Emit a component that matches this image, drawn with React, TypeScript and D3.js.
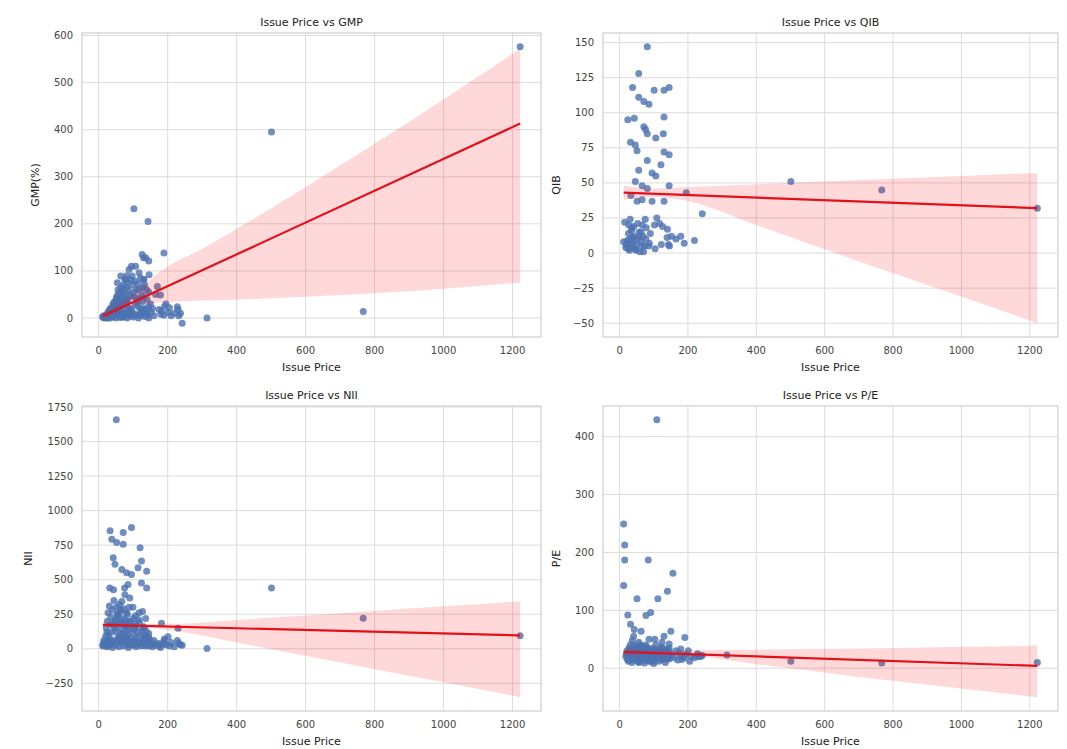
import React from "react";
import * as d3 from "d3";

// one entry per IPO, same order in every array (null = missing value)
const issuePrice = [
  12, 15, 15, 12, 24, 32, 33, 38, 42, 43,
  46, 46, 47, 51, 51, 52, 54, 56, 56, 56,
  63, 64, 66, 66, 67, 67, 71, 71, 75, 76,
  77, 78, 81, 81, 81, 81, 84, 85, 86, 88,
  90, 91, 95, 95, 97, 101, 102, 103, 106, 106,
  107, 109, 112, 114, 116, 117, 120, 121, 124, 124,
  126, 128, 130, 130, 130, 130, 131, 136, 139, 139,
  140, 143, 145, 145, 145, 145, 146, 150, 152, 156,
  160, 165, 170, 175, 179, 180, 182, 189, 189, 191,
  195, 201, 205, 210, 219, 228, 230, 232, 237, 242,
  314, 501, 767, 1222, 20, 22, 25, 27, 28, 30,
  31, 34, 35, 37, 39, 40, 41, 44, 48, 49,
  53, 55, 58, 60, 61, 62, 65, 68, 70, 72,
  74, 79, 83, 87, 92, 94, 99, 104, 110, 113,
  118, 122, 127, 133, 137, 18, 23, 26, 29, 33,
  36, 40, 45, 50, 57, 59, 64, 69, 73, 77,
  82, 86, 91, 96, 100, 108, 115, 123, 134, 141,
];

const gmp = [
  2, 5, 0, 3, 8, 10, 20, 15, 25, 12,
  30, 35, 22, 40, 18, 45, 75, 50, 28, 60,
  55, 89, 42, 65, 30, 10, 70, 58, 48, 82,
  35, 82, 66, 90, 25, 40, 75, 15, 60, 103,
  50, 20, 110, 80, 89, 45, 232, 55, 78, 30,
  110, 60, 35, 72, 40, 96, 20, 85, 50, 15,
  135, 65, 128, 20, 82, 45, 82, 128, 10, 60,
  40, 205, 121, 25, 55, 0, 92, 30, 12, 20,
  5, 50, 67, 18, 49, 8, 15, 138, 6, 25,
  30, 12, 22, 5, 10, 24, 18, 5, 10, -11,
  0, 395, 14, 576, 4, 0, 6, 12, 2, 15,
  8, 0, 18, 5, 22, 10, 30, 3, 16, 26,
  8, 32, 12, 38, 4, 24, 15, 44, 2, 28,
  52, 10, 36, 5, 48, 18, 70, 8, 42, 25,
  62, 5, 35, 70, 18, 1, 3, 0, 7, 2,
  9, 4, 11, 0, 6, 14, 1, 8, 3, 12,
  0, 9, 4, 14, 2, 7, 0, 11, 3, 6,
];

const qib = [
  8, null, 22, null, 95, 79, 41, 118, 12, 96,
  77, 51, null, 73, 37, 10, null, 128, 111, 59,
  15, null, 48, 38, 20, null, 108, 90, 24, 88,
  null, 18, 85, 147, 66, 46, null, 5, 106, null,
  14, null, 57, 37, null, 116, 20, null, 82, 55,
  null, 25, null, null, null, 21, null, 63, null, null,
  19, 85, 116, 97, 72, 37, null, null, 11, null,
  17, 6, 118, 70, 48, null, 5, null, 12, null,
  null, 10, null, null, 12, null, null, 7, null, null,
  43, null, null, null, 9, null, null, null, null, 28,
  null, 51, 45, 32, 6, null, 3, 20, null, 10,
  24, 4, 16, null, null, 8, 19, null, 2, null,
  21, null, 12, null, null, null, 5, null, 1, null,
  null, null, null, 7, null, null, null, 3, null, null,
  null, 6, null, null, null, 4, 9, 14, 2, 7,
  18, 11, 3, 6, 15, 1, 8, 12, 5, 10,
  null, null, null, null, null, null, null, null, null, null,
];

const nii = [
  30, 60, 45, 20, 120, 440, 854, 793, 659, 428,
  150, 200, 611, 300, 1657, 769, 250, 180, 240, 90,
  110, 280, 60, 190, 574, 343, 842, 757, 440, 392,
  210, 130, 550, 260, 80, 160, 100, 465, 200, 300,
  367, 170, 878, 538, 120, 220, 30, 140, 240, 180,
  70, 160, 90, 586, 210, 260, 732, 50, 635, 477,
  130, 100, 150, 30, 70, 160, 60, 220, 562, 440,
  90, 40, 110, 40, 80, 20, 70, 50, 30, 15,
  60, 25, 40, 20, 10, 35, 185, 60, 40, 70,
  30, 88, 20, 45, 15, 60, 148, 40, 30, 25,
  2, 440, 221, 95, 90, 150, 200, 260, 100, 40,
  310, 180, 230, 120, 60, 280, 170, 350, 210, 130,
  60, 240, 190, 320, 80, 270, 150, 220, 110, 290,
  170, 60, 250, 140, 200, 80, 300, 160, 40, 120,
  190, 20, 270, 90, 130, 30, 15, 50, 20, 70,
  35, 10, 45, 25, 65, 15, 40, 85, 20, 55,
  30, 10, 45, 25, 60, 15, 35, 50, 20, 40,
];

const pe = [
  249, 213, 187, 143, 92, 76, 30, 25, 40, 67,
  20, 18, 15, 120, 22, 28, 35, 12, 45, 10,
  64, 38, 25, 30, 14, 22, 18, 26, 33, 40,
  91, 27, 16, 35, 20, 24, 187, 13, 50, 30,
  21, 96, 15, 28, 19, 34, 12, 50, 40, 25,
  18, 429, 120, 27, 32, 22, 17, 30, 36, 45,
  23, 28, 55, 16, 24, 31, 20, 18, 26, 33,
  133, 25, 20, 42, 16, 35, 28, 64, 22, 164,
  18, 30, 14, 26, 33, 20, 15, 22, 18, 53,
  24, 30, 12, 20, 18, 25, 20, 22, 20, 22,
  23, 12, 9, 10, 25, 30, 18, 22, 35, 28,
  40, 15, 26, 48, 20, 32, 55, 18, 29, 36,
  24, 16, 31, 22, 40, 27, 19, 33, 25, 30,
  21, 37, 26, 18, 29, 34, 22, 27, 31, 20,
  26, 35, 23, 29, 17, 20, 15, 12, 24, 17,
  10, 22, 14, 19, 11, 26, 13, 18, 9, 23,
  14, 20, 11, 16, 8, 19, 12, 15, 10, 17,
];

// tick values
const xTicks = [0, 200, 400, 600, 800, 1000, 1200];
const gmpTicks = [0, 100, 200, 300, 400, 500, 600];
const qibTicks = [-50, -25, 0, 25, 50, 75, 100, 125, 150];
const niiTicks = [-250, 0, 250, 500, 750, 1000, 1250, 1500, 1750];
const peTicks = [0, 100, 200, 300, 400];

// regression line, value at the smallest and largest issue price
const gmpFit = [4, 413];
const qibFit = [43, 32];
const niiFit = [173, 97];
const peFit = [28, 4];

// bootstrapped 95% CI of the fit
const gmpBandX = [12, 90, 180, 315, 470, 860, 1222];
const gmpBandLo = [-5, 25, 33, 37, 41, 55, 75];
const gmpBandHi = [10, 45, 100, 153, 220, 398, 572];

const qibBandX = [12, 100, 200, 400, 700, 1000, 1222];
const qibBandLo = [38, 40, 37, 20, -6, -31, -50];
const qibBandHi = [48, 46, 47, 49, 52, 55, 57];

const niiBandX = [12, 100, 237, 400, 700, 1000, 1222];
const niiBandLo = [155, 158, 124, 45, -99, -243, -350];
const niiBandHi = [192, 182, 182, 209, 258, 307, 343];

const peBandX = [12, 100, 200, 400, 700, 1000, 1222];
const peBandLo = [23, 24, 22, 7, -15, -35, -50];
const peBandHi = [33, 31, 31, 32, 34, 37, 39];

const FONT = "DejaVu Sans, sans-serif";
const fmt = (v) => String(v).replace("-", "\u2212");

const Panel = ({ frame, title, yLabel, values, yTicks, fitY, bandX, bandLo, bandHi }) => {
  const pts = issuePrice
    .map((x, i) => ({ x, y: values[i] }))
    .filter((d) => d.y !== null && d.y !== undefined);

  const [x0, x1] = d3.extent(pts, (d) => d.x);
  const xPad = (x1 - x0) * 0.05;
  const x = d3.scaleLinear().domain([x0 - xPad, x1 + xPad]).range([frame.left, frame.right]);

  const [y0, y1] = d3.extent(pts.map((d) => d.y).concat(bandLo, bandHi));
  const yPad = (y1 - y0) * 0.05;
  const y = d3.scaleLinear().domain([y0 - yPad, y1 + yPad]).range([frame.bottom, frame.top]);

  const fit = [x0, x1].map((v, i) => ({ x: v, y: fitY[i] }));

  const band = bandX.map((v, i) => ({ x: v, lo: bandLo[i], hi: bandHi[i] }));
  const area = d3
    .area()
    .x((d) => x(d.x))
    .y0((d) => y(d.lo))
    .y1((d) => y(d.hi))
    .curve(d3.curveMonotoneX);
  const line = d3
    .line()
    .x((d) => x(d.x))
    .y((d) => y(d.y));

  const cx = (frame.left + frame.right) / 2;
  const cy = (frame.top + frame.bottom) / 2;
  const widest = d3.max(yTicks, (t) => fmt(t).length);
  const yLabelX = frame.left - 9 - widest * 6.4 - 15;

  return (
    <g>
      <rect x={frame.left} y={frame.top} width={frame.right - frame.left} height={frame.bottom - frame.top} fill="#fff" />
      {xTicks.map((t) => (
        <line key={"gx" + t} x1={x(t)} x2={x(t)} y1={frame.top} y2={frame.bottom} stroke="#dcdcdc" strokeWidth={1} />
      ))}
      {yTicks.map((t) => (
        <line key={"gy" + t} x1={frame.left} x2={frame.right} y1={y(t)} y2={y(t)} stroke="#dcdcdc" strokeWidth={1} />
      ))}
      {pts.map((d, i) => (
        <circle key={i} cx={x(d.x)} cy={y(d.y)} r={3.5} fill="#4c72b0" fillOpacity={0.8} />
      ))}
      <path d={area(band)} fill="#ff0000" fillOpacity={0.15} />
      <path d={line(fit)} fill="none" stroke="#e3101c" strokeWidth={2.2} />
      <rect x={frame.left} y={frame.top} width={frame.right - frame.left} height={frame.bottom - frame.top} fill="none" stroke="#cfcfcf" strokeWidth={1.2} />

      {xTicks.map((t) => (
        <text key={"tx" + t} x={x(t)} y={frame.bottom + 17} textAnchor="middle" fontSize={10} fill="#444" fontFamily={FONT}>
          {fmt(t)}
        </text>
      ))}
      {yTicks.map((t) => (
        <text key={"ty" + t} x={frame.left - 9} y={y(t) + 3.5} textAnchor="end" fontSize={10} fill="#444" fontFamily={FONT}>
          {fmt(t)}
        </text>
      ))}
      <text x={cx} y={frame.top - 7} textAnchor="middle" fontSize={11} fill="#222" fontFamily={FONT}>
        {title}
      </text>
      <text x={cx} y={frame.bottom + 34} textAnchor="middle" fontSize={11} fill="#222" fontFamily={FONT}>
        Issue Price
      </text>
      <text
        transform={`translate(${yLabelX},${cy}) rotate(-90)`}
        textAnchor="middle"
        fontSize={11}
        fill="#222"
        fontFamily={FONT}
      >
        {yLabel}
      </text>
    </g>
  );
};

export default function App() {
  return (
    <svg width={1067} height={749} style={{ position: "absolute", left: 0, top: 0, background: "#fff" }}>
      <Panel
        frame={{ left: 82, right: 541, top: 33, bottom: 337 }}
        title="Issue Price vs GMP"
        yLabel="GMP(%)"
        values={gmp}
        yTicks={gmpTicks}
        fitY={gmpFit}
        bandX={gmpBandX}
        bandLo={gmpBandLo}
        bandHi={gmpBandHi}
      />
      <Panel
        frame={{ left: 603, right: 1058, top: 33, bottom: 337 }}
        title="Issue Price vs QIB"
        yLabel="QIB"
        values={qib}
        yTicks={qibTicks}
        fitY={qibFit}
        bandX={qibBandX}
        bandLo={qibBandLo}
        bandHi={qibBandHi}
      />
      <Panel
        frame={{ left: 82, right: 541, top: 406, bottom: 711 }}
        title="Issue Price vs NII"
        yLabel="NII"
        values={nii}
        yTicks={niiTicks}
        fitY={niiFit}
        bandX={niiBandX}
        bandLo={niiBandLo}
        bandHi={niiBandHi}
      />
      <Panel
        frame={{ left: 603, right: 1058, top: 406, bottom: 711 }}
        title="Issue Price vs P/E"
        yLabel="P/E"
        values={pe}
        yTicks={peTicks}
        fitY={peFit}
        bandX={peBandX}
        bandLo={peBandLo}
        bandHi={peBandHi}
      />
    </svg>
  );
}
